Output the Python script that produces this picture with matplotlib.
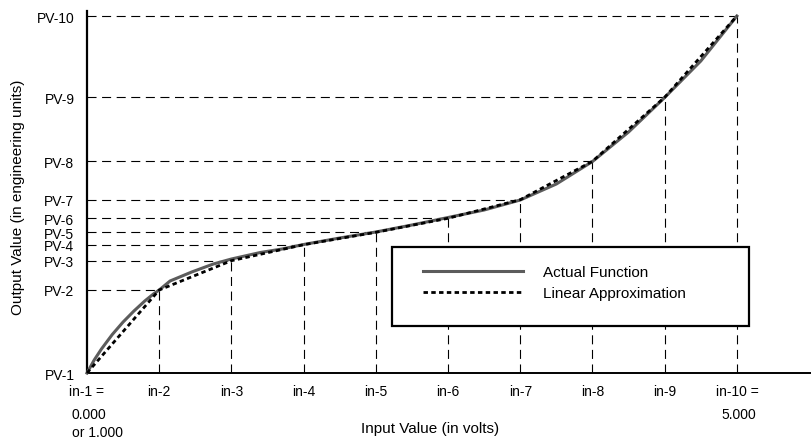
import matplotlib
matplotlib.use("Agg")
import matplotlib.pyplot as plt
from matplotlib.patches import Rectangle

plt.rcParams['font.family'] = ['Liberation Sans', 'DejaVu Sans']
plt.rcParams['lines.scale_dashes'] = False

# ---- data ----
in_positions = [0, 1, 2, 3, 4, 5, 6, 7, 8, 9]
in_labels = ["in-1 =", "in-2", "in-3", "in-4", "in-5", "in-6", "in-7", "in-8", "in-9", "in-10 ="]
pv_labels = ["PV-1", "PV-2", "PV-3", "PV-4", "PV-5", "PV-6", "PV-7", "PV-8", "PV-9", "PV-10"]
pv_values = [0, 83, 112.3, 128.3, 140.7, 154.7, 173.3, 211.7, 275.7, 357]

actual_x = [0, 0.1, 0.2, 0.35, 0.5, 0.65, 0.8, 0.92, 1.0, 1.15, 1.45, 1.75, 2.0, 2.4, 2.7, 3.0,
            3.5, 4.0, 4.5, 5.0, 5.5, 6.0, 6.5, 7.0, 7.5, 8.0, 8.5, 9.0]
actual_y = [0, 13, 24, 38.5, 51, 62, 72, 79, 83, 92, 101, 109, 114, 120.5, 124, 128.5,
            135, 141, 148, 155.5, 163, 173, 189, 211.5, 241, 275.5, 312, 357]

W, H = 812, 439
fig = plt.figure(figsize=(W / 100, H / 100), dpi=100)
ax = fig.add_axes([87 / W, 1 - 374 / H, 725 / W, 362 / H])

# guide lines
dash = (0, (6.5, 4))
ax.vlines(in_positions[1:], 0, pv_values[1:], colors='black', lw=0.8, linestyles=[dash], zorder=2)
ax.hlines(pv_values[1:], 0, in_positions[1:], colors='black', lw=0.8, linestyles=[dash], zorder=2)

ax.plot(actual_x, actual_y, color='#5c5c5c', lw=2.2, solid_joinstyle='round',
        label='Actual Function', zorder=3, clip_on=False)
ax.plot(in_positions, pv_values, color='black', lw=2.0, linestyle=(0, (3.2, 2.4)),
        label='Linear Approximation', zorder=4, clip_on=False)

XMAX = 10.04
ax.set_xlim(0, XMAX)
ax.set_ylim(0, 362)

for s in ['top', 'right']:
    ax.spines[s].set_visible(False)
ax.spines['left'].set_linewidth(1.6)
ax.spines['bottom'].set_linewidth(1.4)

ax.set_xticks(in_positions, in_labels)
ax.set_yticks(pv_values, pv_labels)
ax.tick_params(axis='both', length=0, labelsize=10)
ax.tick_params(axis='x', pad=8)
ax.tick_params(axis='y', pad=9)

k = 0.72  # px -> pt
for txt, xi, dy in [("0.000", in_positions[0], 45), ("or 1.000", in_positions[0], 63),
                    ("5.000", in_positions[-1], 45)]:
    ax.annotate(txt, xy=(xi, 0), xycoords='data', xytext=(-15 * k, -dy * k),
                textcoords='offset points', ha='left', va='baseline', fontsize=10,
                annotation_clip=False)

fig.text(430 / W, 1 - 433 / H, "Input Value (in volts)", ha='center', va='baseline', fontsize=11)
fig.text(18 / W, 1 - 197 / H, "Output Value (in engineering units)", ha='center', va='center',
         rotation=90, fontsize=11)

# legend
box = Rectangle((392 / W, 1 - 327 / H), 357 / W, 79 / H, transform=fig.transFigure,
                facecolor='white', edgecolor='black', lw=1.6, zorder=4.5, clip_on=False)
ax.add_patch(box)
leg = ax.legend(loc='upper left', bbox_to_anchor=(423 / W, 1 - 266 / H),
                bbox_transform=fig.transFigure, frameon=False, borderpad=0, borderaxespad=0,
                handlelength=100 / 15.28, handletextpad=20 / 15.28, labelspacing=0.45,
                fontsize=11)
leg.set_zorder(5)
ax.set_xlim(0, XMAX)
ax.set_ylim(0, 362)

fig.savefig("out.png", dpi=100)
